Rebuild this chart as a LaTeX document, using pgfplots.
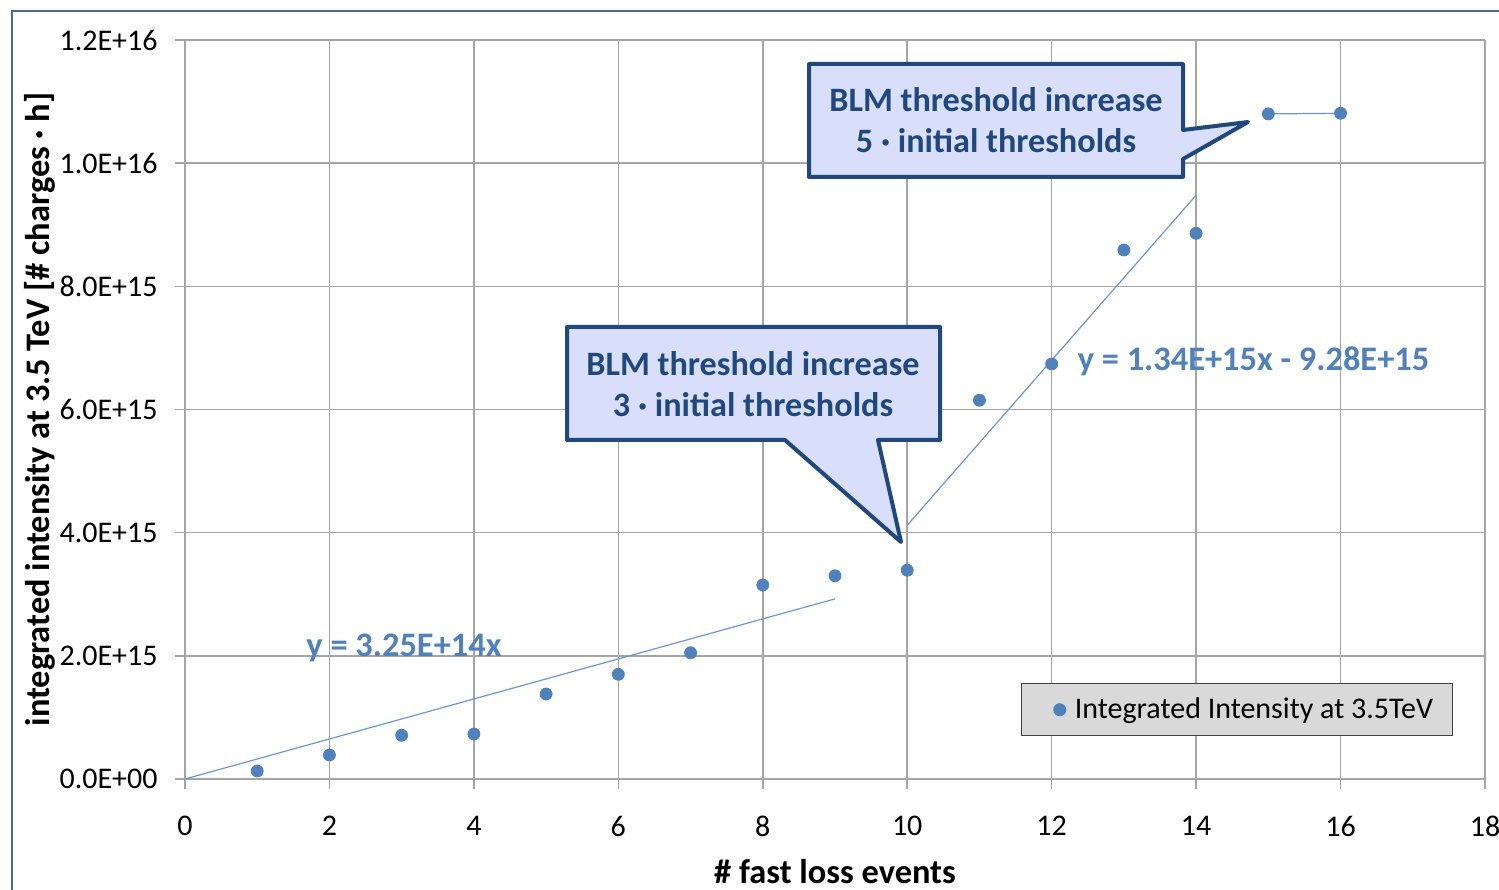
\documentclass[border=0pt]{standalone}
\usepackage{fontspec}
\setmainfont{Carlito}
\usepackage{pgfplots}
\pgfplotsset{compat=1.18}
\definecolor{mk}{RGB}{79,129,189}
\definecolor{tl}{RGB}{110,150,205}
\definecolor{gridc}{RGB}{165,165,165}
\definecolor{cfill}{RGB}{217,222,250}
\definecolor{cdark}{RGB}{31,73,125}
\definecolor{frmc}{RGB}{70,105,150}
\definecolor{legfill}{RGB}{217,217,217}
\begin{document}
\begin{tikzpicture}
\useasboundingbox (-92.5bp,-55.5bp) rectangle (657bp,389.5bp);
\draw[frmc, line width=1.2bp] (-86.5bp,-60bp) -- (-86.5bp,384bp) -- (660bp,384bp);
\begin{axis}[
  at={(0,0)}, anchor=south west,
  scale only axis, width=650bp, height=369.5bp,
  xmin=0, xmax=18, ymin=0, ymax=1.2e16,
  xtick={0,2,...,18},
  xticklabels={0,2,4,6,8,10,12,14,16,18},
  ytick={0,2e15,4e15,6e15,8e15,1e16,1.2e16},
  yticklabels={0.0E+00,2.0E+15,4.0E+15,6.0E+15,8.0E+15,1.0E+16,1.2E+16},
  scaled y ticks=false,
  /pgf/number format/assume math mode=true,
  grid=major,
  major grid style={gridc, line width=0.75bp},
  axis line style={gridc, line width=0.75bp},
  tick style={gridc, line width=0.75bp},
  tick align=outside, major tick length=5bp,
  xtick pos=bottom, ytick pos=left,
  axis x line*=bottom, axis y line*=left,
  ticklabel style={font=\fontsize{15bp}{18bp}\selectfont, inner sep=0pt},
  xticklabel style={anchor=center, yshift=-18.5bp},
  yticklabel style={anchor=east, xshift=-8.5bp},
  clip=false,
  legend style={at={(0.975,0.058)}, anchor=south east, fill=legfill, draw=black!75, line width=0.5bp,
    font=\fontsize{15bp}{18bp}\selectfont, inner xsep=7.5bp, inner ysep=5bp, cells={anchor=west}},
  legend image code/.code={\path[draw=none, fill=none] (0bp,0bp) -- (17bp,0bp); \fill[mk] (11.5bp,0bp) circle (3bp);},
]
\addplot[tl, line width=0.6bp, forget plot] coordinates {(0,0) (9,2.925e15)};
\addplot[tl, line width=0.6bp, forget plot] coordinates {(10,4.12e15) (14,9.48e15)};
\addplot[tl, line width=0.6bp, forget plot] coordinates {(15,1.080e16) (16,1.081e16)};
\addplot[only marks, mark=*, mark size=3bp, mk, mark options={draw=mk, fill=mk}] coordinates {
(1,0.13e15) (2,0.39e15) (3,0.71e15) (4,0.73e15) (5,1.38e15) (6,1.70e15) (7,2.05e15)
(8,3.15e15) (9,3.30e15) (10,3.39e15) (11,6.15e15) (12,6.74e15) (13,8.59e15) (14,8.86e15)
(15,1.080e16) (16,1.081e16)};
\addlegendentry{Integrated Intensity at 3.5TeV}
\end{axis}
% axis labels
\node[font=\fontsize{17.2bp}{20bp}\selectfont\bfseries] at (325bp,-46.5bp) {\# fast loss events};
\node[rotate=90, font=\fontsize{17.2bp}{20bp}\selectfont\bfseries] at (-72.5bp,184.75bp) {integrated intensity at 3.5 TeV [\# charges · h]};
% trendline labels
\node[mk, font=\fontsize{17.2bp}{20bp}\selectfont\bfseries] at (109.5bp,65.5bp) {y = 3.25E+14x};
\node[mk, font=\fontsize{17.2bp}{20bp}\selectfont\bfseries] at (534.25bp,209bp) {y = 1.34E+15x - 9.28E+15};
% callout 1
\draw[cdark, fill=cfill, line width=2bp, line join=round]
  (312bp,301bp) -- (312bp,357.5bp) -- (499bp,357.5bp) -- (499bp,324.5bp) -- (531.5bp,328.5bp) -- (499bp,310bp) -- (499bp,301bp) -- cycle;
\node[cdark, font=\fontsize{17.1bp}{20bp}\selectfont\bfseries] at (405.5bp,339.5bp) {BLM threshold increase};
\node[cdark, font=\fontsize{17.1bp}{20bp}\selectfont\bfseries] at (405.5bp,319bp) {5 · initial thresholds};
% callout 2
\draw[cdark, fill=cfill, line width=2bp, line join=round]
  (191bp,169.5bp) -- (191bp,226bp) -- (377.5bp,226bp) -- (377.5bp,169.5bp) -- (346.5bp,169.5bp) -- (358bp,118.5bp) -- (300bp,169.5bp) -- cycle;
\node[cdark, font=\fontsize{17.1bp}{20bp}\selectfont\bfseries] at (284bp,207.5bp) {BLM threshold increase};
\node[cdark, font=\fontsize{17.1bp}{20bp}\selectfont\bfseries] at (284bp,187bp) {3 · initial thresholds};
\end{tikzpicture}
\end{document}
